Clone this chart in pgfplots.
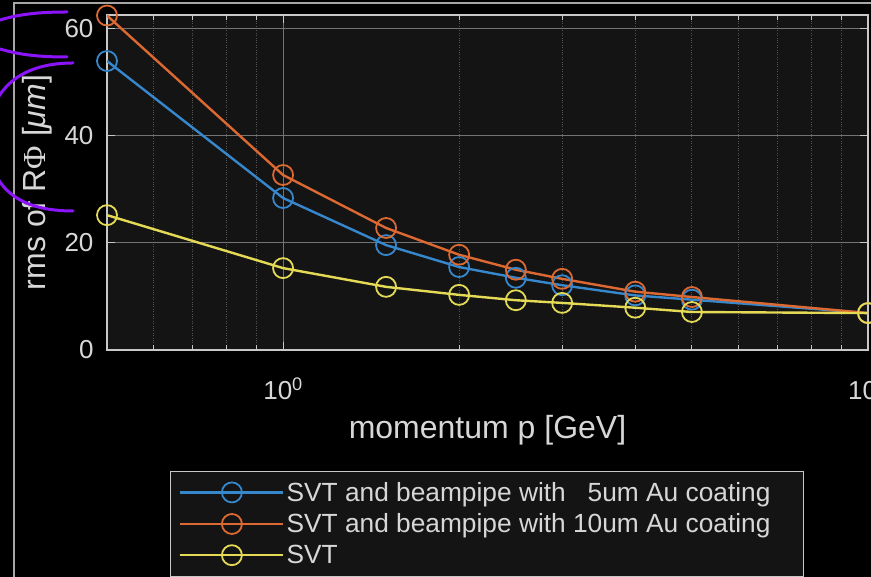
\documentclass[border=0pt]{standalone}
\usepackage{pgfplots}
\pgfplotsset{compat=1.18}
\usepackage{fontspec}
\setmainfont{Liberation Sans}
\newfontfamily\serifphi{Liberation Serif}
\definecolor{mblue}{RGB}{55,135,205}
\definecolor{morange}{RGB}{220,105,50}
\definecolor{myellow}{RGB}{228,218,85}
\definecolor{axbg}{RGB}{20,20,20}
\definecolor{axfg}{RGB}{200,200,200}
\definecolor{txt}{RGB}{215,215,215}
\definecolor{majgrid}{RGB}{115,115,115}
\definecolor{mingrid}{RGB}{85,85,85}
\definecolor{annot}{RGB}{140,20,250}
\begin{document}
\begin{tikzpicture}[x=1pt,y=1pt]
\useasboundingbox (0,0) rectangle (871,577);
\clip (0,0) rectangle (871,577);
\fill[black] (0,0) rectangle (871,577);
\begin{axis}[
  at={(107pt,227pt)}, anchor=south west,
  scale only axis, width=761pt, height=335pt,
  xmode=log, xmin=0.5, xmax=10, ymin=0, ymax=62.6,
  axis background/.style={fill=axbg},
  axis line style={axfg, line width=1.2pt},
  xtick={1,10}, xticklabels={10\textsuperscript{0},10\textsuperscript{1}},
  minor xtick={0.6,0.7,0.8,0.9,2,3,4,5,6,7,8,9},
  ytick={0,20,40,60}, yticklabels={0,20,40,60},
  tick align=inside, tick pos=both,
  major tick length=8pt, minor tick length=5pt,
  tick style={axfg, line width=1pt},
  grid=both,
  major grid style={majgrid, line width=1pt},
  minor grid style={mingrid, dotted, line width=1pt},
  ticklabel style={font=\fontsize{26}{31}\selectfont, text=txt},
  xticklabel style={yshift=-24pt},
  yticklabel style={xshift=-10pt},
  xlabel={momentum p [GeV]},
  xlabel style={font=\fontsize{32}{38}\selectfont, text=txt, at={(axis description cs:0.5,-0.24)}, anchor=center},
  ylabel={rms of R{\serifphi Φ} [{\itshape μm}]},
  ylabel style={font=\fontsize{32}{38}\selectfont, text=txt, at={(axis description cs:-0.092,0.5)}, anchor=center},
  legend style={at={(axis description cs:0.0828,-0.361)}, anchor=north west, fill=axbg, draw=axfg, text=txt,
    font=\fontsize{26.3}{31}\selectfont, inner xsep=9pt, inner ysep=9pt, row sep=7pt, cells={anchor=west}},
  legend image code/.code={\draw[mark repeat=2, mark phase=2, #1, line width=2.4pt] plot coordinates {(0pt,0pt) (51.5pt,0pt) (103pt,0pt)};},
]
\addplot[mblue, line width=2.4pt, mark=o, mark size=10pt, mark options={line width=1.8pt}] coordinates {
(0.5,54.0) (1,28.4) (1.5,19.6) (2,15.5) (2.5,13.5) (3,12.1) (4,10.2) (5,9.4) (10,6.9)};
\addplot[morange, line width=2.4pt, mark=o, mark size=10pt, mark options={line width=1.8pt}] coordinates {
(0.5,62.5) (1,32.7) (1.5,22.8) (2,17.8) (2.5,15.0) (3,13.3) (4,10.9) (5,9.9) (10,6.9)};
\addplot[myellow, line width=2.4pt, mark=o, mark size=10pt, mark options={line width=1.8pt}] coordinates {
(0.5,25.2) (1,15.3) (1.5,11.8) (2,10.3) (2.5,9.3) (3,8.8) (4,7.9) (5,7.1) (10,6.9)};
\legend{SVT and beampipe with \phantom{1}5um Au coating, SVT and beampipe with 10um Au coating\mbox{}\hspace{22pt}\mbox{}, SVT}
\end{axis}
\draw[gray!70, line width=1.5pt] (14,0) -- (14,574) -- (871,574);
\draw[annot, line width=3pt, line cap=round] (0,557) .. controls (20,563) and (40,565) .. (67,565);
\draw[annot, line width=3pt, line cap=round] (0,528) .. controls (20,522) and (40,520) .. (67,520);
\draw[annot, line width=3pt, line cap=round] (73,514) .. controls (10,514) and (-12,477) .. (-12,440) .. controls (-12,397) and (10,366) .. (73,366);
\end{tikzpicture}
\end{document}
